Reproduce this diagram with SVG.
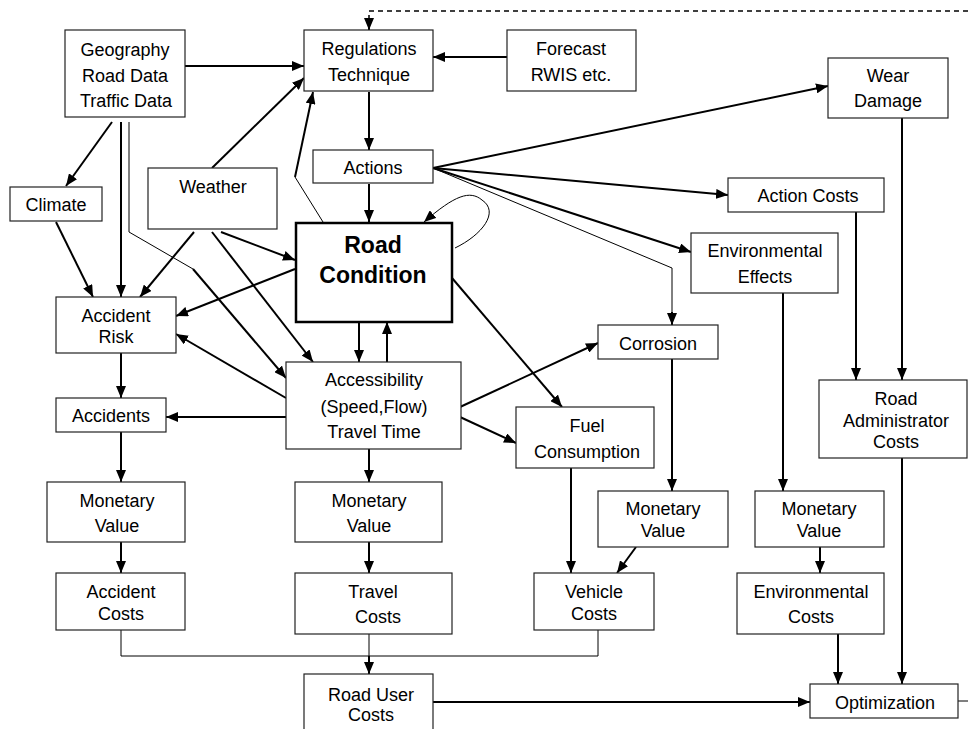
<svg xmlns="http://www.w3.org/2000/svg" width="968" height="729" viewBox="0 0 968 729">
<defs>
<marker id="ah" markerUnits="userSpaceOnUse" markerWidth="12" markerHeight="10" refX="12" refY="5" orient="auto"><path d="M0,0 L12,5 L0,10 z" fill="#000"/></marker>
<style>
.box{fill:#fff;stroke:#222;stroke-width:1.2}
.bold{fill:#fff;stroke:#000;stroke-width:2.5}
text{font-family:"Liberation Sans",Arial,sans-serif;font-size:18px;fill:#000;text-anchor:middle}
.big{font-size:23px;font-weight:bold}
.c{fill:none;stroke:#000;stroke-width:2}
.a{marker-end:url(#ah)}
.t{fill:none;stroke:#000;stroke-width:1}
.d{fill:none;stroke:#000;stroke-width:1.5;stroke-dasharray:5,4}
</style>
</defs>
<rect width="968" height="729" fill="#fff"/>
<g id="connectors">
<path class="c a" d="M185,66 L304,66"/>
<path class="c a" d="M212,168 L304,78"/>
<path class="t" d="M323,222 L295,177"/>
<path class="c a" d="M295,177 L313,92"/>
<path class="c a" d="M507,57 L433,57"/>
<path class="d" d="M968,11 L369,11 L369,20"/>
<path class="c a" d="M369,18 L369,30"/>
<path class="c a" d="M369,92 L369,150"/>
<path class="c a" d="M369,184 L369,222"/>
<path class="t a" d="M455,248 C482,235 500,212 482,200 C470,190 455,195 424,222"/>
<path class="c a" d="M433,168 L828,86"/>
<path class="c a" d="M433,168 L728,195"/>
<path class="c a" d="M433,168 L691,252"/>
<path class="t" d="M433,168 L672,268 L672,315"/>
<path class="c a" d="M672,312 L672,325"/>
<path class="c a" d="M112,122 L66,186"/>
<path class="c a" d="M121,122 L121,297"/>
<path class="t" d="M129,122 L129,232 L193,269"/>
<path class="c a" d="M193,269 L286,378"/>
<path class="c a" d="M56,222 L93,297"/>
<path class="c a" d="M194,232 L140,297"/>
<path class="c a" d="M221,232 L295,260"/>
<path class="c a" d="M212,232 L313,362"/>
<path class="c a" d="M295,269 L176,316"/>
<path class="c a" d="M286,398 L176,334"/>
<path class="c a" d="M121,353 L121,398"/>
<path class="c a" d="M286,417 L166,417"/>
<path class="c a" d="M121,432 L121,482"/>
<path class="c a" d="M121,542 L121,573"/>
<path class="c a" d="M359,322 L359,362"/>
<path class="c a" d="M387,362 L387,322"/>
<path class="c a" d="M452,278 L562,407"/>
<path class="c a" d="M460,407 L598,343"/>
<path class="c a" d="M460,417 L516,443"/>
<path class="c a" d="M369,449 L369,482"/>
<path class="c a" d="M369,542 L369,573"/>
<path class="t" d="M121,630 L121,656 L598,656 L598,630"/>
<path class="t" d="M369,634 L369,660"/>
<path class="c a" d="M369,656 L369,674"/>
<path class="c a" d="M571,468 L571,573"/>
<path class="c a" d="M672,359 L672,491"/>
<path class="c a" d="M636,547 L617,573"/>
<path class="c a" d="M783,293 L783,491"/>
<path class="c a" d="M820,547 L820,573"/>
<path class="c a" d="M838,634 L838,684"/>
<path class="c a" d="M856,212 L856,380"/>
<path class="c a" d="M902,118 L902,380"/>
<path class="c a" d="M902,458 L902,684"/>
<path class="c a" d="M433,702 L810,702"/>
<path class="t" d="M958,701 L968,701"/>
</g>
<g id="geography"><rect class="box" x="65" y="30" width="120" height="87"/><text x="125" y="56">Geography</text><text x="125" y="82">Road Data</text><text x="126" y="107">Traffic Data</text></g>
<g id="regulations"><rect class="box" x="304" y="30" width="129" height="61"/><text x="369" y="55">Regulations</text><text x="369" y="81">Technique</text></g>
<g id="forecast"><rect class="box" x="507" y="30" width="129" height="61"/><text x="571" y="55">Forecast</text><text x="571" y="81">RWIS etc.</text></g>
<g id="wear"><rect class="box" x="828" y="58" width="120" height="60"/><text x="888" y="82">Wear</text><text x="888" y="107">Damage</text></g>
<g id="actions"><rect class="box" x="313" y="150" width="120" height="33"/><text x="373" y="174">Actions</text></g>
<g id="weather"><rect class="box" x="148" y="168" width="129" height="61"/><text x="213" y="193">Weather</text></g>
<g id="climate"><rect class="box" x="10" y="187" width="92" height="34"/><text x="56" y="211">Climate</text></g>
<g id="actioncosts"><rect class="box" x="728" y="178" width="156" height="34"/><text x="808" y="202">Action Costs</text></g>
<g id="roadcondition"><rect class="bold" x="296" y="223" width="156" height="99"/><text class="big" x="373" y="253">Road</text><text class="big" x="373" y="283">Condition</text></g>
<g id="enveffects"><rect class="box" x="691" y="233" width="147" height="60"/><text x="765" y="257">Environmental</text><text x="765" y="283">Effects</text></g>
<g id="accidentrisk"><rect class="box" x="56" y="297" width="120" height="56"/><text x="116" y="322">Accident</text><text x="116" y="343">Risk</text></g>
<g id="corrosion"><rect class="box" x="598" y="325" width="120" height="34"/><text x="658" y="350">Corrosion</text></g>
<g id="accessibility"><rect class="box" x="286" y="362" width="175" height="87"/><text x="374" y="386">Accessibility</text><text x="374" y="413">(Speed,Flow)</text><text x="374" y="438">Travel Time</text></g>
<g id="roadadmin"><rect class="box" x="819" y="380" width="148" height="78"/><text x="896" y="405">Road</text><text x="896" y="427">Administrator</text><text x="896" y="448">Costs</text></g>
<g id="accidents"><rect class="box" x="56" y="398" width="110" height="34"/><text x="111" y="422">Accidents</text></g>
<g id="fuel"><rect class="box" x="516" y="407" width="138" height="61"/><text x="587" y="432">Fuel</text><text x="587" y="458">Consumption</text></g>
<g id="mv1"><rect class="box" x="47" y="482" width="138" height="60"/><text x="117" y="507">Monetary</text><text x="117" y="532">Value</text></g>
<g id="mv2"><rect class="box" x="295" y="482" width="147" height="60"/><text x="369" y="507">Monetary</text><text x="369" y="532">Value</text></g>
<g id="mv3"><rect class="box" x="598" y="491" width="130" height="56"/><text x="663" y="515">Monetary</text><text x="663" y="537">Value</text></g>
<g id="mv4"><rect class="box" x="755" y="491" width="129" height="56"/><text x="819" y="515">Monetary</text><text x="819" y="537">Value</text></g>
<g id="accidentcosts"><rect class="box" x="56" y="573" width="129" height="57"/><text x="121" y="598">Accident</text><text x="121" y="620">Costs</text></g>
<g id="travelcosts"><rect class="box" x="295" y="573" width="157" height="61"/><text x="373" y="598">Travel</text><text x="378" y="623">Costs</text></g>
<g id="vehiclecosts"><rect class="box" x="534" y="573" width="120" height="57"/><text x="594" y="598">Vehicle</text><text x="594" y="620">Costs</text></g>
<g id="envcosts"><rect class="box" x="737" y="573" width="147" height="61"/><text x="811" y="598">Environmental</text><text x="811" y="623">Costs</text></g>
<g id="roadusercosts"><rect class="box" x="304" y="674" width="129" height="70"/><text x="371" y="701">Road User</text><text x="371" y="721">Costs</text></g>
<g id="optimization"><rect class="box" x="810" y="684" width="148" height="34"/><text x="885" y="709">Optimization</text></g>
</svg>
